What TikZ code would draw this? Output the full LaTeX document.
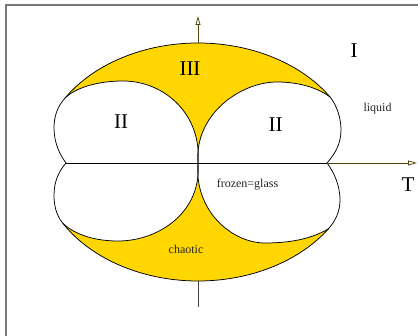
\documentclass[tikz,border=0pt]{standalone}
\usepackage{fontspec}
\setmainfont{Liberation Serif}
\usetikzlibrary{arrows.meta,calc}
\definecolor{fillgold}{RGB}{255,214,0}
\definecolor{axiscol}{RGB}{85,68,10}
\definecolor{framecol}{RGB}{120,120,120}
\begin{document}
\begin{tikzpicture}[x=1pt,y=-1pt,
  outline/.style={draw=black,line width=0.75pt},
  goldfill/.style={fill=fillgold,draw=none},
  whitefill/.style={fill=white,draw=none},
  bigl/.style={font=\fontsize{21}{21}\selectfont,inner sep=0pt},
  smalll/.style={font=\fontsize{12}{12}\selectfont,inner sep=0pt,text=black!85},
  axisline/.style={line width=0.75pt},
  axisarrow/.style={-{Triangle[open,length=9pt,width=5pt]},line width=0.75pt,draw=axiscol}]
\useasboundingbox (0,0) rectangle (418,336);
\draw[framecol,line width=1.5pt] (6,340) -- (6,5) -- (425,5);

% key points
\coordinate (C) at (198,162);
\coordinate (O) at (198,163);
\coordinate (J1) at ($(C)+(-147.5:157.7 and 119)$);
\coordinate (J2) at ($(C)+(-33:157.7 and 119)$);
\coordinate (J3) at ($(C)+(148.9:157.7 and 119)$);
\coordinate (J4) at ($(C)+(34:157.7 and 119)$);
\coordinate (T1) at (123,81);
\coordinate (L1) at (54,128);
\coordinate (A) at (66,163);
\coordinate (T2) at (277,82);
\coordinate (R2) at (341,130);
\coordinate (B) at (327,163);
\coordinate (T3) at (118,241);
\coordinate (L3) at (54,195);
\coordinate (T4) at (265,243);
\coordinate (R4) at (340,200);
\coordinate (D) at (327,163);
\coordinate (Etop) at (198,43);
\coordinate (Ebot) at (198,281);

% lobe shapes
\def\lobeUL{(O) .. controls (202,115) and (165,81) .. (T1)
  .. controls (95,81) and (74,89) .. (J1)
  .. controls (57,107) and (54,117) .. (L1)
  .. controls (54,143) and (60,155) .. (A)}
\def\lobeUR{(O) .. controls (194,115) and (240,82) .. (T2)
  .. controls (303,82) and (321,90) .. (J2)
  .. controls (337,106) and (341,118) .. (R2)
  .. controls (341,145) and (334,155) .. (B)}
\def\lobeLL{(O) .. controls (202,211) and (160,241) .. (T3)
  .. controls (90,241) and (72,232) .. (J3)
  .. controls (56,215) and (54,205) .. (L3)
  .. controls (54,180) and (60,170) .. (A)}
\def\lobeLR{(O) .. controls (194,211) and (232,243) .. (T4)
  .. controls (295,243) and (315,237) .. (J4)
  .. controls (336,220) and (340,211) .. (R4)
  .. controls (340,184) and (333,171) .. (D)}

% yellow regions
\path[goldfill] (J1) arc[start angle=-147.5,end angle=-33,x radius=157.7,y radius=119] -- (J2)
  .. controls (321,90) and (303,82) .. (T2)
  .. controls (240,82) and (194,115) .. (O)
  .. controls (202,115) and (165,81) .. (T1)
  .. controls (95,81) and (74,89) .. (J1) -- cycle;
\path[goldfill] (J3) arc[start angle=148.9,end angle=34,x radius=157.7,y radius=119] -- (J4)
  .. controls (315,237) and (295,243) .. (T4)
  .. controls (232,243) and (194,211) .. (O)
  .. controls (202,211) and (160,241) .. (T3)
  .. controls (90,241) and (72,232) .. (J3) -- cycle;
\path[whitefill] \lobeUL -- cycle;
\path[whitefill] \lobeUR -- cycle;
\path[whitefill] \lobeLL -- cycle;
\path[whitefill] \lobeLR -- cycle;

% lobe outlines
\draw[outline] \lobeUL;
\draw[outline] \lobeUR;
\draw[outline] \lobeLL;
\draw[outline] \lobeLR;

% ellipse arcs
\draw[outline] (J1) arc[start angle=-147.5,end angle=-33,x radius=157.7,y radius=119];
\draw[outline] (J3) arc[start angle=148.9,end angle=34,x radius=157.7,y radius=119];

% axes
\coordinate (Xend) at (417,163);
\coordinate (Yend) at (198,16);
\coordinate (Ybot) at (198,307);
\draw[axisline] (A) -- (D);
\draw[axisarrow] (D) -- (Xend);
\draw[axisarrow] (Etop) -- (Yend);
\draw[axisline,draw=black!75] (Ebot) -- (Ybot);

% labels
\node[bigl] (lIII) at (190,69) {III};
\node[bigl] (lIIa) at (121,122) {II};
\node[bigl] (lIIb) at (275.5,124.5) {II};
\node[bigl] (lI) at (354,51) {I};
\node[bigl] (lT) at (408,184.5) {T};
\node[smalll] (lliq) at (377.5,109) {liquid};
\node[smalll] (lfro) at (247.5,184.5) {frozen=glass};
\node[smalll] (lcha) at (186,249.5) {chaotic};
\end{tikzpicture}
\end{document}
